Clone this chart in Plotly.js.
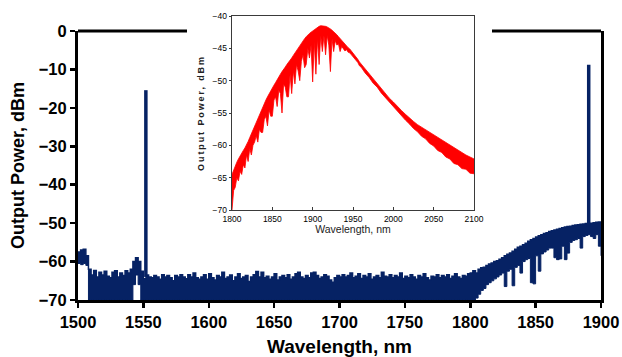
<!DOCTYPE html>
<html>
<head>
<meta charset="utf-8">
<script src="https://cdn.plot.ly/plotly-3.0.1.min.js"></script>
<style>
html,body{margin:0;padding:0;background:#fff;}
#chart{width:622px;height:357px;}
.y2title{letter-spacing:1.9px;}
</style>
</head>
<body>
<div id="chart"></div>
<script>
// ---------- Main spectrum (1500-1900 nm, sampled every 2 nm) ----------
const mainStart = 1500, mainStep = 2;
const mainTop = [
 -57.5,-57,-56.8,-58.5,-62,-63.5,-62.3,-64,-62.8,-63.5,
 -62.5,-63.8,-64.2,-62.8,-62.4,-64,-63,-63.6,-62.4,-63,
 -62,-60,-59,-60,-62.5,-64.5,-63.5,-64,-64.2,-63.6,
 -64,-64.6,-63.4,-64,-63.6,-64.2,-65,-63.6,-64,-63.4,
 -64,-64.5,-63.4,-64,-63,-64.2,-64.6,-64,-63.4,-64.6,
 -63.2,-64.2,-64.8,-63.6,-64,-62.8,-64.4,-64,-63.5,-65,
 -64,-63.2,-64.4,-64,-63.6,-65.2,-64,-63.4,-62.6,-64,
 -62.8,-64.2,-63.8,-64.6,-64,-63.2,-64.8,-64,-63.6,-64.2,
 -63.4,-64.6,-64,-63.2,-62.8,-64,-64.4,-63.6,-64.2,-63,
 -62.8,-63.6,-64.4,-64,-63.4,-63.8,-64.8,-65.4,-64.2,-63.6,
 -64,-63.4,-64,-63.6,-63,-64.2,-63.8,-63.2,-64.4,-63.6,
 -64,-63.2,-64.6,-64,-63.6,-64.2,-62.8,-63.8,-64,-63.4,
 -64.2,-63.6,-64,-63,-64.4,-63.8,-64.2,-63.4,-64,-64.6,
 -63.6,-64,-63.2,-64.2,-64.8,-63.8,-64,-63.4,-64.2,-63.6,
 -64,-63.4,-64.4,-63.8,-63.2,-64,-64.4,-63.6,-63.8,-63.2,
 -63,-62.4,-63,-62,-61.6,-61.5,-61,-60.6,-60.4,-60,
 -59.8,-59.4,-59,-58.5,-58.1,-57.8,-57.3,-56.8,-56.3,-56,
 -55.6,-55.2,-54.7,-54.3,-54,-53.6,-53.3,-53,-52.7,-52.5,
 -52.2,-52,-51.8,-51.6,-51.4,-51.2,-51,-50.9,-50.8,-50.6,
 -50.5,-50.4,-50.3,-50.2,-50.1,-50,-50,-49.9,-49.8,-49.7,
 -49.8
];
const mainBottom = [
 -60.5,-60.8,-60.5,-61,-70,-70,-70,-70,-70,-70,
 -70,-70,-70,-70,-70,-70,-70,-70,-70,-70,
 -70,-66,-63.5,-66,-70,-70,-70,-70,-70,-70,
 -70,-70,-70,-70,-70,-70,-70,-70,-70,-70,
 -70,-70,-70,-70,-70,-70,-70,-70,-70,-70,
 -70,-70,-70,-70,-70,-70,-70,-70,-70,-70,
 -70,-70,-70,-70,-70,-70,-70,-70,-70,-70,
 -70,-70,-70,-70,-70,-70,-70,-70,-70,-70,
 -70,-70,-70,-70,-70,-70,-70,-70,-70,-70,
 -70,-70,-70,-70,-70,-70,-70,-70,-70,-70,
 -70,-70,-70,-70,-70,-70,-70,-70,-70,-70,
 -70,-70,-70,-70,-70,-70,-70,-70,-70,-70,
 -70,-70,-70,-70,-70,-70,-70,-70,-70,-70,
 -70,-70,-70,-70,-70,-70,-70,-70,-70,-70,
 -70,-70,-70,-70,-70,-70,-70,-70,-70,-70,
 -70,-70,-69.5,-68.5,-67.5,-67,-66,-65.5,-65,-64.5,
 -64,-63.5,-63,-66.5,-62.5,-62,-66.3,-61.5,-61,-63,
 -60,-59.5,-59.2,-65.5,-65.8,-58.5,-62.5,-58,-57.5,-57,
 -56.5,-56.5,-59,-59.5,-59.3,-56,-59.5,-57.8,-55,-54.5,
 -54.3,-54,-56.5,-53.5,-53.2,-53,-53.5,-54,-53,-56,
 -58.5
];
// laser lines
const peakX = [1551.9, 1551.9, null, 1890.6, 1890.6];
const peakY = [-64, -15.4, null, -51, -8.8];

// ---------- Inset spectrum (1800-2100 nm) ----------
const insetTop = [
 -64.5,-63.8,-63.2,-62.6,-62.1,-61.6,-61.2,-60.8,-60.4,-60,
 -59.4,-58.8,-58.2,-57.6,-57,-56.4,-55.8,-55.2,-54.6,-54,
 -53.5,-53,-52.5,-52,-51.6,-51.2,-50.7,-50.3,-49.8,-49.4,
 -49,-48.6,-48.3,-47.9,-47.5,-47.2,-46.8,-46.5,-46.1,-45.7,
 -45.3,-45,-44.6,-44.2,-43.9,-43.5,-43.2,-42.9,-42.7,-42.5,
 -42.3,-42.1,-41.9,-41.7,-41.6,-41.5,-41.5,-41.5,-41.6,-41.7,
 -41.8,-42,-42.2,-42.4,-42.6,-42.9,-43.2,-43.5,-43.8,-44.1,
 -44.4,-44.6,-44.9,-45.1,-45.4,-45.7,-46,-46.4,-46.7,-47.1,
 -47.4,
 -48.2,-49,-49.7,-50.4,-51.2,-52,-52.7,-53.3,-54,-54.6,
 -55.2,-55.8,-56.3,-56.8,-57.2,-57.6,-58,-58.4,-58.8,-59.2,
 -59.6,-60,-60.4,-60.8,-61.1,-61.5,-61.8,-62.1
];
const insetBottom = [
 -70,-67,-66.5,-65,-65.5,-64,-64.5,-63,-63.5,-61.5,
 -62.5,-60.5,-61.5,-60,-59.5,-58.5,-59.5,-57.5,-58,-58,
 -56,-55.5,-57,-54.5,-55.5,-55.5,-53,-52.5,-54,-51.5,
 -52,-55,-50.5,-51,-52.5,-52.5,-49,-52,-48.5,-50.5,
 -47.5,-48.5,-50,-47,-46,-48,-47.5,-45,-46.5,-44.5,
 -50.2,-44,-49,-43.5,-47.5,-43,-45.5,-43,-46,-43,
 -44.5,-48.6,-43.5,-45.5,-43.8,-44.5,-44.3,-45.5,-44.7,-45,
 -45.4,-45.2,-45.6,-45.7,-46,-46.3,-46.6,-47,-47.2,-47.7,
 -47.9,
 -48.8,-49.5,-50.4,-51,-51.9,-52.6,-53.4,-54,-54.8,-55.4,
 -56.1,-56.7,-57.4,-57.9,-58.6,-59,-59.7,-60.1,-60.8,-61.1,
 -61.8,-62.1,-62.8,-63,-63.6,-63.7,-64.3,-64.4
];

// sampling grids
const mainX = mainTop.map((_, i) => mainStart + i * mainStep);
const insetX = [];
for (let w = 1800; w <= 1960; w += 2) insetX.push(w);
for (let w = 1965; w <= 2100; w += 5) insetX.push(w);

const navy = '#062264';
const red = '#ff0000';

const traces = [
  {x: mainX, y: mainBottom, type: 'scatter', mode: 'lines', line: {color: navy, width: 1, shape: 'hv'}, xaxis: 'x', yaxis: 'y', hoverinfo: 'skip'},
  {x: mainX, y: mainTop, type: 'scatter', mode: 'lines', line: {color: navy, width: 1.5, shape: 'hv'}, fill: 'tonexty', fillcolor: navy, xaxis: 'x', yaxis: 'y'},
  {x: peakX, y: peakY, type: 'scatter', mode: 'lines', line: {color: navy, width: 3.5}, xaxis: 'x', yaxis: 'y'},
  {x: insetX, y: insetBottom, type: 'scatter', mode: 'lines', line: {color: red, width: 0.8}, xaxis: 'x2', yaxis: 'y2', hoverinfo: 'skip'},
  {x: insetX, y: insetTop, type: 'scatter', mode: 'lines', line: {color: red, width: 0.8}, fill: 'tonexty', fillcolor: red, xaxis: 'x2', yaxis: 'y2'}
];

const mainFont = 'Liberation Sans, Arial, sans-serif';
const narrowFont = 'Liberation Sans Narrow, Arial Narrow, Liberation Sans, Arial, sans-serif';
const mainTopFrac = 269 / 290;

const layout = {
  width: 622, height: 357,
  margin: {l: 78, r: 21, t: 10, b: 57},
  paper_bgcolor: '#fff', plot_bgcolor: '#fff',
  showlegend: false,
  xaxis: {
    domain: [0, 1], range: [1500, 1900], dtick: 50, tick0: 1500,
    showgrid: false, zeroline: false,
    showline: true, linecolor: '#000', linewidth: 3,
    ticks: 'outside', ticklen: 5, tickwidth: 2.5, tickcolor: '#000',
    tickfont: {family: mainFont, size: 16.5, color: '#000', weight: 'bold'},
    title: {text: 'Wavelength, nm', font: {family: mainFont, size: 19, color: '#000', weight: 'bold'}, standoff: 12},
    anchor: 'y', fixedrange: true
  },
  yaxis: {
    domain: [0, mainTopFrac], range: [-70, 0], dtick: 10,
    showgrid: false, zeroline: false,
    showline: true, linecolor: '#000', linewidth: 3, mirror: true,
    ticks: 'outside', ticklen: 5, tickwidth: 2.5, tickcolor: '#000',
    tickfont: {family: mainFont, size: 16.5, color: '#000', weight: 'bold'},
    title: {text: 'Output Power, dBm', font: {family: mainFont, size: 18, color: '#000', weight: 'bold'}, standoff: 10},
    anchor: 'x', fixedrange: true
  },
  xaxis2: {
    domain: [(232 - 78) / 523, (474 - 78) / 523], range: [1800, 2100], dtick: 50, tick0: 1800,
    showgrid: false, zeroline: false,
    showline: true, linecolor: '#3a3a3a', linewidth: 1.3, mirror: true,
    ticks: 'inside', ticklen: 3, tickwidth: 1, tickcolor: '#3a3a3a',
    tickfont: {family: narrowFont, size: 8.5, color: '#000'},
    title: {text: 'Wavelength, nm', font: {family: narrowFont, size: 10.5, color: '#222'}, standoff: 2},
    anchor: 'y2', fixedrange: true
  },
  yaxis2: {
    domain: [(300 - 210) / 290, (300 - 16) / 290], range: [-70, -40], dtick: 5,
    showgrid: false, zeroline: false,
    showline: true, linecolor: '#3a3a3a', linewidth: 1.3, mirror: true,
    ticks: 'outside', ticklen: 2, tickwidth: 1, tickcolor: '#3a3a3a',
    tickfont: {family: narrowFont, size: 8.5, color: '#000'},
    title: {text: 'Output Power, dBm', font: {family: mainFont, size: 9, color: '#222', weight: 'bold'}, standoff: 6},
    anchor: 'x2', fixedrange: true
  },
  shapes: [
    {type: 'line', xref: 'paper', yref: 'paper', x0: 0, x1: (187 - 78) / 523, y0: mainTopFrac, y1: mainTopFrac, line: {color: '#000', width: 3}},
    {type: 'line', xref: 'paper', yref: 'paper', x0: (492 - 78) / 523, x1: 1, y0: mainTopFrac, y1: mainTopFrac, line: {color: '#000', width: 3}}
  ]
};

Plotly.newPlot('chart', traces, layout, {displayModeBar: false, staticPlot: true});
</script>
</body>
</html>
